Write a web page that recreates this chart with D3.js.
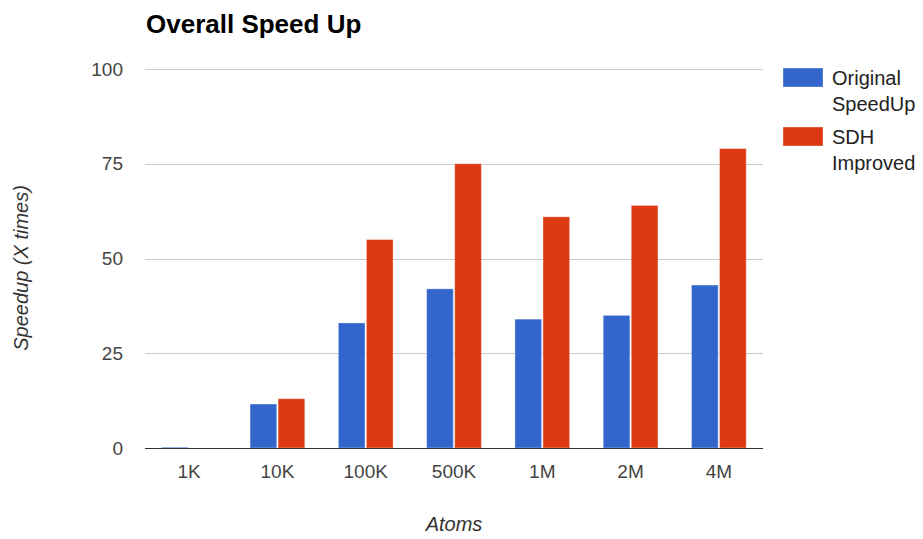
<!DOCTYPE html>
<html>
<head>
<meta charset="utf-8">
<script src="https://cdnjs.cloudflare.com/ajax/libs/d3/7.8.5/d3.min.js"></script>
<style>
  html, body { margin: 0; padding: 0; background: #fff; }
  svg { display: block; font-family: Arial, "Liberation Sans", sans-serif; }
</style>
</head>
<body>
<svg id="chart" width="923" height="539"></svg>
<script>
const categories = ["1K", "10K", "100K", "500K", "1M", "2M", "4M"];
const seriesNames = ["Original SpeedUp", "SDH Improved"];
const legendLines = [["Original", "SpeedUp"], ["SDH", "Improved"]];
const originalSpeedUp = [0.2, 11.6, 33, 42, 34, 35, 43];
const sdhImproved = [0, 13, 55, 75, 61, 64, 79];
const yTicks = [0, 25, 50, 75, 100];
const colors = ["#3366cc", "#dc3912"];

const svg = d3.select("#chart");
const plotLeft = 145, plotRight = 763, plotTop = 69, plotBottom = 448;

const x0 = d3.scaleBand().domain(categories).range([plotLeft, plotRight]).paddingInner(0.38).paddingOuter(0.19);
const x1 = d3.scaleBand().domain(seriesNames).range([0, x0.bandwidth()]).paddingInner(0.05);
const y = d3.scaleLinear().domain([0, 100]).range([plotBottom, plotTop]);

const data = categories.map((c, i) => ({cat: c, vals: [originalSpeedUp[i], sdhImproved[i]]}));

// gridlines
svg.append("g").selectAll("line").data(yTicks.filter(t => t > 0)).join("line")
  .attr("x1", plotLeft).attr("x2", plotRight)
  .attr("y1", d => Math.round(y(d)) + 0.5).attr("y2", d => Math.round(y(d)) + 0.5)
  .attr("stroke", "#cccccc").attr("stroke-width", 1);

// y tick labels
const yAxis = d3.axisLeft(y).tickValues(yTicks).tickSize(0).tickPadding(0);
const yg = svg.append("g").attr("transform", `translate(${plotLeft - 22},0)`).call(yAxis);
yg.select(".domain").remove();
yg.selectAll("text").attr("font-size", 19).attr("fill", "#444").attr("font-family", "Arial, 'Liberation Sans', sans-serif");

// bars
const groups = svg.append("g").selectAll("g").data(data).join("g")
  .attr("transform", d => `translate(${x0(d.cat)},0)`);
groups.selectAll("rect").data(d => d.vals.map((v, j) => ({name: seriesNames[j], v, j}))).join("rect")
  .attr("x", d => x1(d.name))
  .attr("width", x1.bandwidth())
  .attr("y", d => y(d.v))
  .attr("height", d => y(0) - y(d.v))
  .attr("fill", d => colors[d.j])
  .attr("stroke", "#ffffff").attr("stroke-opacity", 0.35).attr("stroke-width", 1);

// baseline
svg.append("line").attr("x1", plotLeft).attr("x2", plotRight)
  .attr("y1", plotBottom + 0.5).attr("y2", plotBottom + 0.5)
  .attr("stroke", "#333333").attr("stroke-width", 1.2);

// x axis labels
const xAxis = d3.axisBottom(x0).tickSize(0).tickPadding(0);
const xg = svg.append("g").attr("transform", `translate(0,${plotBottom + 16})`).call(xAxis);
xg.select(".domain").remove();
xg.selectAll("text").attr("font-size", 19).attr("fill", "#444").attr("dy", "0.71em").attr("font-family", "Arial, 'Liberation Sans', sans-serif");

// title
svg.append("text").attr("x", 146).attr("y", 33)
  .attr("font-size", 26).attr("font-weight", "bold").attr("fill", "#000")
  .text("Overall Speed Up");

// axis titles
svg.append("text").attr("x", (plotLeft + plotRight) / 2).attr("y", 531)
  .attr("text-anchor", "middle").attr("font-size", 20).attr("font-style", "italic").attr("fill", "#333")
  .text("Atoms");
svg.append("text").attr("transform", "translate(28,268) rotate(-90)")
  .attr("text-anchor", "middle").attr("font-size", 20).attr("font-style", "italic").attr("fill", "#333")
  .text("Speedup (X times)");

// legend
const legend = svg.append("g").selectAll("g").data(seriesNames).join("g")
  .attr("transform", (d, i) => `translate(783,${68 + i * 59})`);
legend.append("rect").attr("width", 40).attr("height", 19)
  .attr("fill", (d, i) => colors[i])
  .attr("stroke", "#ffffff").attr("stroke-opacity", 0.35);
legend.each(function(d, i) {
  const g = d3.select(this);
  legendLines[i].forEach((line, k) => {
    g.append("text").attr("x", 49).attr("y", 17 + k * 26)
      .attr("font-size", 20).attr("fill", "#222").text(line);
  });
});
</script>
</body>
</html>
